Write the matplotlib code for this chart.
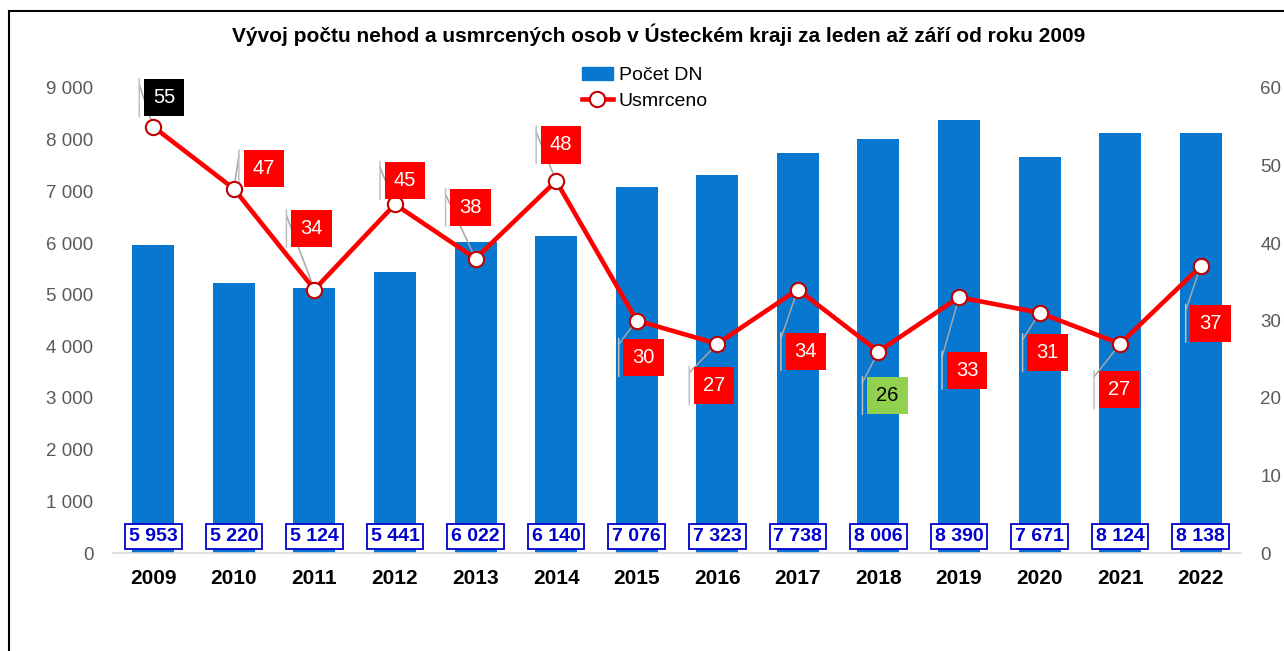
import matplotlib
matplotlib.use("Agg")
import matplotlib.pyplot as plt
from matplotlib.patches import Rectangle
from matplotlib.transforms import offset_copy

plt.rcParams['font.family'] = ['Liberation Sans', 'DejaVu Sans']

years = ["2009", "2010", "2011", "2012", "2013", "2014", "2015", "2016",
         "2017", "2018", "2019", "2020", "2021", "2022"]
nehody = [5953, 5220, 5124, 5441, 6022, 6140, 7076, 7323, 7738, 8006, 8390, 7671, 8124, 8138]
usmrceno = [55, 47, 34, 45, 38, 48, 30, 27, 34, 26, 33, 31, 27, 37]
left_ticks = [0, 1000, 2000, 3000, 4000, 5000, 6000, 7000, 8000, 9000]
right_ticks = [0, 10, 20, 30, 40, 50, 60]
title = "Vývoj počtu nehod a usmrcených osob v Ústeckém kraji za leden až září od roku 2009"

# label box offsets (pixels, dx right, dy down) relative to line points
lab_dx = [11, 30, -3, 10, -5, 5, 7, -3, 8, 9, 8, 8, -1, 10]
lab_dy = [-29, -20, -61, -24, -51, -36, 37, 42, 62, 44, 73, 40, 46, 57]
lab_face = ['black', 'red', 'red', 'red', 'red', 'red', 'red', 'red', 'red',
            '#92D050', 'red', 'red', 'red', 'red']
lab_text = ['white'] * 9 + ['black'] + ['white'] * 4

W, H = 1284, 651
fig = plt.figure(figsize=(W / 100, H / 100), dpi=100)
ax = fig.add_axes([113 / W, 1 - 553 / H, (1241 - 113) / W, (553 - 88) / H])
ax2 = ax.twinx()

x = list(range(len(years)))
ax.bar(x, nehody, width=0.52, color='#0777CF', label='Počet DN', zorder=2)
ax.set_ylim(0, 9000)
ax.set_xlim(-0.5, len(years) - 0.5)
ax.set_yticks(left_ticks)
ax.set_yticklabels([f"{v:,}".replace(",", " ") for v in left_ticks])
ax.set_xticks(x)
ax.set_xticklabels(years, fontweight='bold', fontsize=15, color='black')
ax.tick_params(axis='y', length=0, pad=14, labelsize=13.5, labelcolor='#595959')
ax.tick_params(axis='x', length=0, pad=11.5)
for s in ['top', 'right', 'left']:
    ax.spines[s].set_visible(False)
ax.spines['bottom'].set_color('#D9D9D9')
ax.spines['bottom'].set_linewidth(1.2)

for i, v in enumerate(nehody):
    ax.annotate(f"{v:,}".replace(",", " "), xy=(i, 0), xytext=(0, 12),
                textcoords='offset points', ha='center', va='center',
                fontsize=14, fontweight='bold', color='#0000CC', zorder=5,
                bbox=dict(boxstyle='square,pad=0.2', fc='white', ec='#0000CC', lw=1.3))

line, = ax2.plot(x, usmrceno, color='#FF0000', lw=3.3, marker='o', markersize=11,
                 markerfacecolor='white', markeredgecolor='#C00000', markeredgewidth=1.5,
                 label='Usmrceno', zorder=3)
ax2.set_ylim(0, 60)
ax2.set_yticks(right_ticks)
ax2.tick_params(axis='y', length=0, pad=14, labelsize=13.5, labelcolor='#595959')
for s in ['top', 'right', 'left', 'bottom']:
    ax2.spines[s].set_visible(False)

k = 0.72
for i, v in enumerate(usmrceno):
    dx, dy = lab_dx[i], lab_dy[i]
    vx = dx - 25
    top = dy - 19
    bot = dy + 19
    # diagonal leader from point to top of the vertical bar
    ax2.annotate("", xy=(i, v), xytext=(vx * k, -(top + 6) * k), textcoords='offset points',
                 arrowprops=dict(arrowstyle='-', color='#A6A6A6', lw=1.1,
                                 shrinkA=0, shrinkB=0), zorder=2.5)
    # vertical bar left of the box
    trt = offset_copy(ax2.transData, fig=fig, x=vx, y=-top, units='dots')
    trb = offset_copy(ax2.transData, fig=fig, x=vx, y=-bot, units='dots')
    ax2.annotate("", xy=(i, v), xycoords=trt, xytext=(i, v), textcoords=trb,
                 arrowprops=dict(arrowstyle='-', color='#BFBFBF', lw=1.1,
                                 shrinkA=0, shrinkB=0), zorder=2.5)
    ax2.annotate(str(v), xy=(i, v), xytext=(dx * k, -dy * k), textcoords='offset points',
                 ha='center', va='center', fontsize=14.5, color=lab_text[i], zorder=6,
                 bbox=dict(boxstyle='square,pad=0.45', fc=lab_face[i], ec='none'))

h1 = Rectangle((0, 0), 1, 1, color='#0777CF')
fig.legend([h1, line], ['Počet DN', 'Usmrceno'], loc='upper left',
           bbox_to_anchor=(572 / W, 1 - 57 / H), frameon=False, fontsize=14,
           handlelength=1.6, handletextpad=0.3, labelspacing=0.4, borderpad=0)

fig.text(0.513, 1 - 35 / H, title, ha='center', va='center', fontsize=15,
         fontweight='bold', color='black')

fig.patches.append(Rectangle((9 / W, -0.05), 1.2, 1 - 11 / H + 0.05, transform=fig.transFigure,
                             fill=False, ec='black', lw=1.5, zorder=0))

fig.savefig("out.png", dpi=100)
